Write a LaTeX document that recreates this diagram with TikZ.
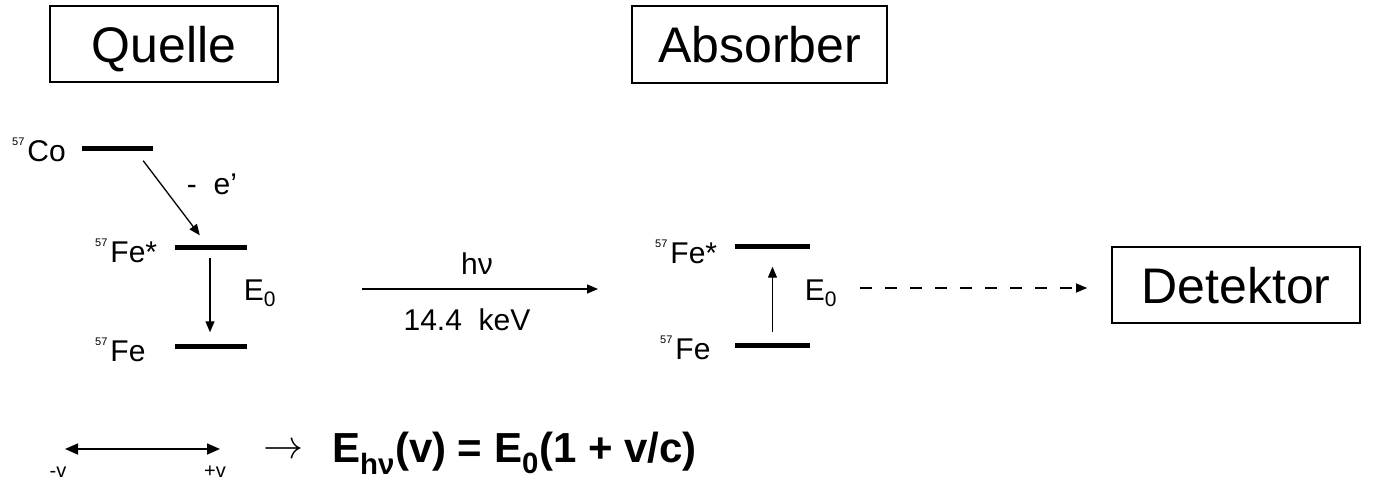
\documentclass[tikz,border=0pt]{standalone}
\usepackage{fontspec}
\setmainfont{Liberation Sans}
\usetikzlibrary{arrows.meta,calc}
\newcommand{\iso}[1]{\raisebox{1.0ex}{\fontsize{11}{11}\selectfont #1}\kern3pt}
\begin{document}
\begin{tikzpicture}[x=1pt,y=-1pt,
 boxnode/.style={draw,line width=1.8pt,inner sep=0,text height=36pt,text depth=0pt,font=\fontsize{50}{60}\selectfont},
 level/.style={fill=black,inner sep=0,minimum height=5pt},
 lbl/.style={inner sep=0,font=\fontsize{30}{34}\selectfont},
 arr/.style={line width=1.3pt,-{Triangle[length=11pt,width=9pt]}},
]
\useasboundingbox (0,0) rectangle (1379,485);
% boxes
\node[boxnode,minimum width=228pt,minimum height=76pt] (quelle) at (164,44) {Quelle};
\node[boxnode,minimum width=255pt,minimum height=77pt] (absorber) at (759.5,44.5) {Absorber};
\node[boxnode,minimum width=248pt,minimum height=76pt] (det) at (1236,285) {Detektor};
% levels source
\node[level,minimum width=71pt] (co) at (117.5,148) {};
\node[level,minimum width=72pt] (feS) at (211,247) {};
\node[level,minimum width=72pt] (fe) at (211,346) {};
\node[lbl,anchor=west] (colbl) at (12,150) {\iso{57}Co};
\node[lbl,anchor=west] (feSlbl) at (95,251) {\iso{57}Fe*};
\node[lbl,anchor=west] (felbl) at (95,350) {\iso{57}Fe};
\draw[arr] ($(co.south east)+(-10,10)$) -- ($(feS.north west)+(25,-9)$);
\node[lbl] (elec) at (212,184) {-\ \ e'};
\draw[arr] ($(feS.south)+(-1,8)$) -- ($(fe.north)+(-1,-11)$);
\node[lbl] (e0a) at (260,293) {E\textsubscript{0}};
% photon
\coordinate (ph1) at (362,289);
\coordinate (ph2) at (598,289);
\draw[arr] (ph1) -- (ph2);
\node[lbl] (hnu) at (477,264) {hν};
\node[lbl] (kev) at (467,320) {14.4\ \ keV};
% levels absorber
\node[level,minimum width=75pt] (afeS) at (772.5,246) {};
\node[level,minimum width=75pt] (afe) at (772.5,345) {};
\node[lbl,anchor=west] (afeSlbl) at (655,252) {\iso{57}Fe*};
\node[lbl,anchor=west] (afelbl) at (660,348) {\iso{57}Fe};
\draw[arr] ($(afe.north)+(0,-10)$) -- ($(afeS.south)+(0,18)$);
\node[lbl] (e0b) at (821,293) {E\textsubscript{0}};
% dashed to detector
\coordinate (d1) at (860,288);
\draw[line width=1.3pt,dash pattern=on 12pt off 13pt,-{Triangle[length=11pt,width=9pt]},shorten >=24pt] (d1) -- (d1 -| det.west);
% velocity
\coordinate (v1) at (65,449);
\coordinate (v2) at (220,449);
\draw[line width=1.6pt,{Triangle[length=13pt,width=11pt]}-{Triangle[length=13pt,width=11pt]}] (v1) -- (v2);
\node[inner sep=0,font=\fontsize{20}{22}\selectfont] (vm) at (58,472) {-v};
\node[inner sep=0,font=\fontsize{20}{22}\selectfont] (vp) at (215,472) {+v};
\node[inner sep=0] (to) at (283,451) {\resizebox{40pt}{!}{$\rightarrow$}};
\node[inner sep=0,anchor=base west,font=\bfseries\fontsize{42}{46}\selectfont] (formula) at (332,462) {E\textsubscript{hν}(v) = E\textsubscript{0}(1 + v/c)};
\end{tikzpicture}
\end{document}
